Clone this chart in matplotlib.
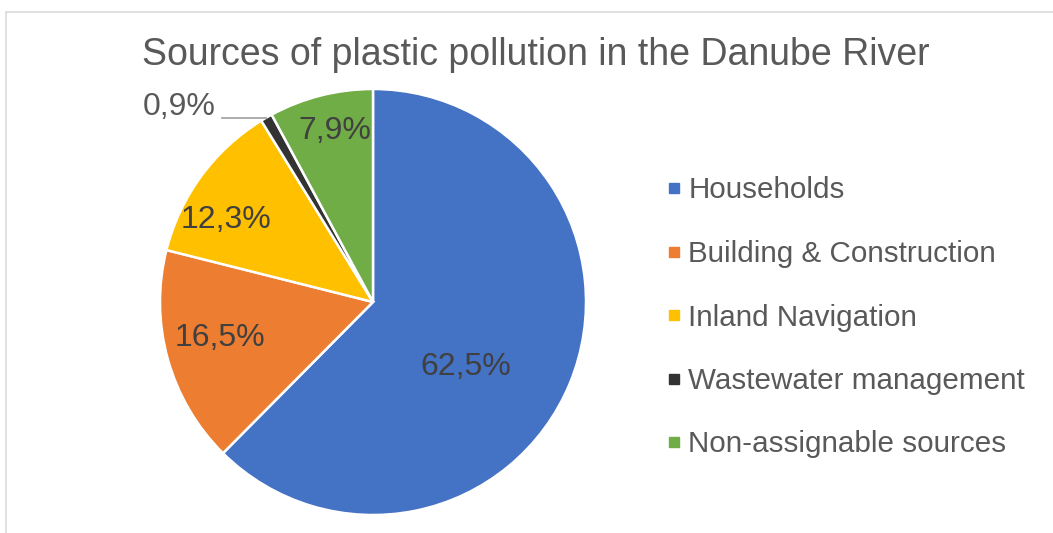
import matplotlib
matplotlib.use("Agg")
import matplotlib.pyplot as plt
from matplotlib.lines import Line2D
import numpy as np

# Data
categories = ["Households", "Building & Construction", "Inland Navigation",
              "Wastewater management", "Non-assignable sources"]
shares = [62.5, 16.5, 12.3, 0.9, 7.9]
value_labels = ["62,5%", "16,5%", "12,3%", "0,9%", "7,9%"]
title = "Sources of plastic pollution in the Danube River"

# Style
colors = ["#4472C4", "#ED7D31", "#FFC000", "#333333", "#70AD47"]
text_grey = "#595959"
label_grey = "#404040"
# label placement (angle in degrees, distance as fraction of radius); None -> outside label
label_place = [(-35.0, 0.533), (193.2, 0.737), (150.8, 0.79), None, (102.5, 0.82)]

plt.rcParams['font.family'] = ['Liberation Sans', 'DejaVu Sans']

W, H = 1053, 533
fig = plt.figure(figsize=(W / 100, H / 100), dpi=100)

# light chart border (top and left edges visible)
border_kw = dict(transform=fig.transFigure, color="#D9D9D9", linewidth=1.1)
fig.add_artist(Line2D([5.5 / W, 1.0], [1 - 11.5 / H, 1 - 11.5 / H], **border_kw))
fig.add_artist(Line2D([5.5 / W, 5.5 / W], [0.0, 1 - 11.5 / H], **border_kw))

cx, cy, r = 373, 302, 213
ax = fig.add_axes([(cx - r) / W, (H - cy - r) / H, 2 * r / W, 2 * r / H])
wedges, _ = ax.pie(shares, colors=colors, startangle=90, counterclock=False,
                   radius=1, wedgeprops=dict(edgecolor="white", linewidth=1.8))
ax.set_xlim(-1, 1)
ax.set_ylim(-1, 1)
ax.set_aspect("equal")
ax.axis("off")

for w, lab, place in zip(wedges, value_labels, label_place):
    if place is not None:
        ang, dist = place
        x = dist * np.cos(np.radians(ang))
        y = dist * np.sin(np.radians(ang))
        ax.text(x, y, lab, ha="center", va="center", fontsize=23, color=label_grey)
    else:
        mid = np.radians((w.theta1 + w.theta2) / 2)
        ex, ey = np.cos(mid), np.sin(mid)
        lx = -0.709
        ax.plot([ex, lx], [ey, ey], color="#A6A6A6", lw=1.3, clip_on=False)
        ax.text(lx - 0.03, ey + 0.05, lab, ha="right", va="center",
                fontsize=23, color=text_grey)

fig.text(535.5 / W, 1 - 55 / H, title, ha="center", va="center",
         fontsize=27, color=text_grey)

handles = [Line2D([], [], marker="s", linestyle="none", color=c, markersize=7)
           for c in colors]
fig.legend(handles, categories, loc="center left",
           bbox_to_anchor=(664.8 / W, 1 - 317.5 / H), frameon=False,
           fontsize=21.3, handlelength=0.6, handletextpad=0.2,
           labelspacing=1.2, borderpad=0, borderaxespad=0,
           labelcolor=text_grey)

fig.savefig("out.png", dpi=100)
